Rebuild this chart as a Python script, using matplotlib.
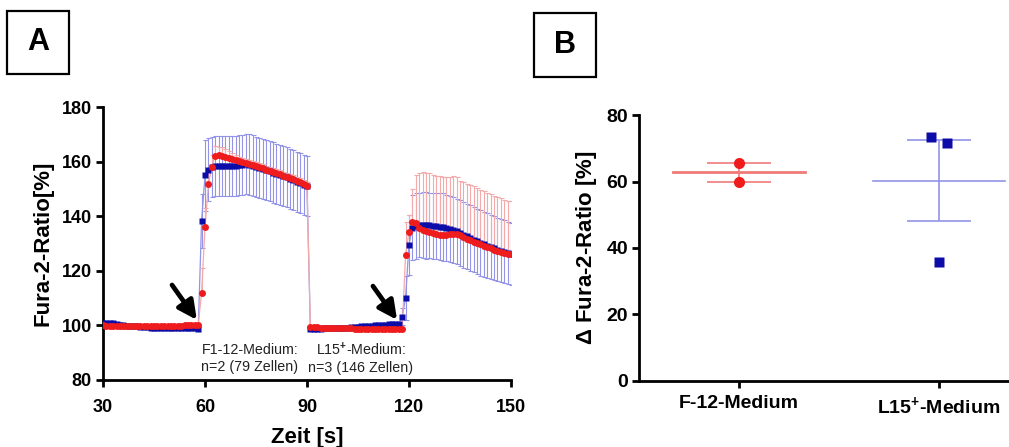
import numpy as np
import matplotlib
matplotlib.use("Agg")
import matplotlib.pyplot as plt
from matplotlib.patches import Rectangle

plt.rcParams['font.family'] = ['Liberation Sans', 'DejaVu Sans']
plt.rcParams['font.weight'] = 'bold'
plt.rcParams['mathtext.fontset'] = 'custom'
plt.rcParams['mathtext.rm'] = 'Liberation Sans'
plt.rcParams['mathtext.bf'] = 'Liberation Sans:bold'

# --- Panel A: time course (1 s steps, 30..150 s) ---
t_start, t_end = 30, 150

blue_mean = [
    100.8, 100.9, 100.8, 100.7, 100.5, 100.3, 100.0, 99.9, 99.8, 99.7,
    99.6, 99.5, 99.4, 99.3, 99.2, 99.1, 99.0, 99.0, 98.9, 98.9,
    98.9, 99.0, 99.0, 99.0, 99.1, 99.1, 99.0, 98.9, 98.6, 138.2,
    155.0, 157.0, 158.0, 158.3, 158.5, 158.5, 158.5, 158.5, 158.4, 158.5,
    158.6, 158.8, 159.0, 158.8, 158.5, 158.0, 157.6, 157.2, 156.8, 156.4,
    156.0, 155.6, 155.2, 154.7, 154.2, 153.7, 153.2, 152.7, 152.2, 151.6,
    151.0, 98.6, 98.7, 98.8, 98.8, 98.9, 98.9, 99.0, 99.0, 99.1,
    99.1, 99.2, 99.2, 99.3, 99.4, 99.5, 99.6, 99.7, 99.8, 99.9,
    100.0, 100.1, 100.2, 100.3, 100.4, 100.5, 100.5, 100.6, 103.2, 110.0,
    129.5, 135.8, 136.5, 136.8, 136.8, 136.7, 136.6, 136.5, 136.4, 136.2,
    136.0, 135.7, 135.3, 134.9, 134.4, 133.8, 133.2, 132.6, 132.0, 131.4,
    130.8, 130.2, 129.7, 129.2, 128.7, 128.2, 127.8, 127.4, 127.0, 126.6,
    126.2,
]
blue_sd = [
    0.6, 0.6, 0.6, 0.6, 0.6, 0.6, 0.6, 0.6, 0.6, 0.6,
    0.6, 0.6, 0.6, 0.6, 0.6, 0.6, 0.6, 0.6, 0.6, 0.6,
    0.6, 0.6, 0.6, 0.6, 0.6, 0.6, 0.6, 0.7, 0.8, 10.0,
    13.0, 11.5, 11.0, 11.0, 11.0, 11.0, 11.0, 11.0, 11.0, 11.0,
    11.0, 11.0, 11.0, 11.2, 11.2, 11.0, 11.0, 11.0, 11.0, 11.0,
    11.0, 11.0, 11.0, 11.0, 11.0, 11.0, 11.0, 11.0, 11.0, 11.0,
    11.0, 0.7, 0.6, 0.6, 0.6, 0.6, 0.6, 0.6, 0.6, 0.6,
    0.6, 0.6, 0.6, 0.6, 0.6, 0.6, 0.6, 0.6, 0.6, 0.6,
    0.6, 0.6, 0.6, 0.6, 0.6, 0.6, 0.6, 0.6, 3.0, 8.0,
    11.0, 12.0, 12.0, 11.8, 12.0, 12.3, 12.0, 12.0, 12.2, 12.3,
    12.5, 12.2, 12.0, 12.0, 12.0, 12.1, 12.0, 12.0, 12.0, 12.0,
    12.0, 12.0, 11.8, 11.8, 11.8, 11.7, 11.6, 11.5, 11.5, 11.4,
    11.3,
]
red_mean = [
    100.0, 99.9, 99.9, 99.8, 99.8, 99.8, 99.7, 99.7, 99.7, 99.7,
    99.7, 99.7, 99.7, 99.7, 99.8, 99.8, 99.8, 99.8, 99.8, 99.8,
    99.8, 99.9, 99.9, 99.9, 100.0, 100.0, 100.0, 100.0, 100.0, 112.0,
    136.0, 151.8, 158.0, 162.2, 162.5, 162.2, 161.8, 161.4, 161.0, 160.6,
    160.2, 159.8, 159.5, 159.2, 158.8, 158.4, 158.0, 157.5, 157.0, 156.6,
    156.2, 155.8, 155.3, 154.8, 154.4, 154.0, 153.5, 153.0, 152.4, 151.8,
    151.2, 99.5, 99.4, 99.3, 99.2, 99.2, 99.1, 99.1, 99.0, 99.0,
    99.0, 98.9, 98.9, 98.9, 98.8, 98.8, 98.8, 98.7, 98.7, 98.7,
    98.6, 98.6, 98.6, 98.5, 98.5, 98.5, 98.5, 98.5, 98.6, 125.8,
    134.3, 138.0, 137.6, 135.5, 134.8, 134.5, 134.3, 134.0, 133.6, 133.2,
    133.0, 133.2, 133.4, 133.5, 133.3, 133.0, 132.4, 131.8, 131.2, 130.7,
    130.2, 129.7, 129.2, 128.7, 128.2, 127.8, 127.4, 127.0, 126.6, 126.3,
    126.0,
]
red_sd = [
    0.5, 0.5, 0.5, 0.5, 0.5, 0.5, 0.5, 0.5, 0.5, 0.5,
    0.5, 0.5, 0.5, 0.5, 0.5, 0.5, 0.5, 0.5, 0.5, 0.5,
    0.5, 0.5, 0.5, 0.5, 0.5, 0.5, 0.5, 0.5, 0.5, 9.0,
    7.0, 5.0, 4.5, 3.5, 3.0, 3.0, 3.0, 2.5, 2.0, 2.0,
    1.5, 1.5, 1.5, 1.5, 1.5, 1.5, 1.5, 1.5, 1.5, 1.5,
    1.5, 1.5, 1.5, 1.5, 1.5, 1.5, 1.5, 1.5, 1.5, 1.5,
    1.5, 0.5, 0.5, 0.5, 0.5, 0.5, 0.5, 0.5, 0.5, 0.5,
    0.5, 0.5, 0.5, 0.5, 0.5, 0.5, 0.5, 0.5, 0.5, 0.5,
    0.5, 0.5, 0.5, 0.5, 0.5, 0.5, 0.5, 0.5, 0.5, 12.0,
    6.0, 12.0, 17.5, 20.5, 21.3, 21.5, 21.5, 21.0, 21.2, 21.5,
    21.5, 21.0, 21.0, 21.2, 21.0, 19.8, 20.0, 20.0, 20.3, 20.3,
    20.3, 20.0, 20.0, 19.8, 19.8, 19.7, 19.6, 19.5, 19.5, 19.4,
    19.5,
]
time = np.arange(t_start, t_end + 1)

xticks_a = [30, 60, 90, 120, 150]
yticks_a = [80, 100, 120, 140, 160, 180]
arrow_heads = [(57.6, 102.0), (116.5, 102.0)]
arrow_tails = [(50.3, 114.8), (109.4, 114.4)]
notes = ["F1-12-Medium:\nn=2 (79 Zellen)", "L15$^{+}$-Medium:\nn=3 (146 Zellen)"]
note_pos = [(73.2, 88.0), (105.9, 88.0)]

# --- Panel B: per-experiment deltas ---
groups = ["F-12-Medium", "L15$^{\\mathbf{+}}$-Medium"]
f12_values = [65.5, 60.0]
l15_values = [73.4, 71.7, 35.7]
l15_jitter = [-0.04, 0.04, 0.0]

BLUE_DARK = '#0c0ca8'
BLUE_LIGHT = '#9393e8'
RED_DARK = '#ee1c1c'
RED_LIGHT = '#f4aaaa'

fig = plt.figure(figsize=(10.09, 4.47), dpi=100)


def style_axis(ax, size, xpad):
    for s in ['top', 'right']:
        ax.spines[s].set_visible(False)
    for s in ['left', 'bottom']:
        ax.spines[s].set_linewidth(2)
    ax.tick_params(width=2, length=5, labelsize=size, pad=3)
    ax.tick_params(axis='x', pad=xpad)
    for lab in ax.get_xticklabels() + ax.get_yticklabels():
        lab.set_fontweight('bold')


# Panel A
axA = fig.add_axes([0.1021, 0.1499, 0.4043, 0.6107])
bm = np.array(blue_mean)
rm = np.array(red_mean)
axA.errorbar(time, bm, yerr=blue_sd, color=BLUE_LIGHT, lw=0.9,
             elinewidth=0.8, capsize=1.8, capthick=0.8, zorder=1)
axA.errorbar(time, rm, yerr=[np.zeros(len(red_sd)), red_sd], color=RED_LIGHT,
             lw=0.9, elinewidth=0.8, capsize=1.8, capthick=0.8, zorder=1.5)
axA.plot(time, bm, 's', color=BLUE_DARK, ms=4.5, mec='none', zorder=3)
axA.plot(time, rm, 'o', color=RED_DARK, ms=5, mec='none', zorder=4)

for head, tail in zip(arrow_heads, arrow_tails):
    axA.annotate('', xy=head, xytext=tail,
                 arrowprops=dict(arrowstyle='-|>', color='black', lw=3.4,
                                 mutation_scale=28, shrinkA=0, shrinkB=0),
                 zorder=5)
for txt, (x, y) in zip(notes, note_pos):
    axA.text(x, y, txt, ha='center', va='center', fontsize=10.3,
             fontweight='normal', color='#222222', linespacing=1.25)

axA.set_xlim(30, 150)
axA.set_ylim(80, 180)
axA.set_xticks(xticks_a)
axA.set_yticks(yticks_a)
axA.set_xlabel('Zeit [s]', fontsize=16, fontweight='bold', labelpad=8)
axA.set_ylabel('Fura-2-Ratio[%]', fontsize=16, fontweight='bold', labelpad=6)
style_axis(axA, 13, 8.5)

# Panel B
axB = fig.add_axes([0.6333, 0.1477, 0.3667, 0.5950])
groups_vals = [f12_values, l15_values]
jitters = [[0.0, 0.0], l15_jitter]
markers = ['o', 's']
dark = [RED_DARK, BLUE_DARK]
light = ['#f07a7a', BLUE_LIGHT]
sizes = [8, 7.5]
for i, vals in enumerate(groups_vals):
    v = np.array(vals)
    mean = v.mean()
    sem = v.std(ddof=1) / np.sqrt(len(v))
    axB.plot([i - 0.33, i + 0.33], [mean, mean], color=light[i],
             lw=2 if i == 0 else 1.2, zorder=2)
    axB.errorbar([i], [mean], yerr=[sem], fmt='none', ecolor=light[i],
                 elinewidth=1.2, capsize=23, capthick=1.2, zorder=2)
    axB.plot(i + np.array(jitters[i]), v, markers[i], color=dark[i],
             ms=sizes[i], mec='none', zorder=3, clip_on=False)

axB.set_xlim(-0.5, 1.35)
axB.set_ylim(0, 80)
axB.set_xticks([0, 1])
axB.set_xticklabels(groups)
axB.set_yticks([0, 20, 40, 60, 80])
axB.set_ylabel('$\\Delta$ Fura-2-Ratio [%]', fontsize=16, fontweight='bold', labelpad=5)
style_axis(axB, 14, 5)

# panel letters
W, H = 1009, 447
for letter, (x0, y0, x1, y1) in [('A', (7, 11, 69, 74)), ('B', (534, 13, 596, 77))]:
    fig.patches.append(Rectangle((x0 / W, 1 - y1 / H), (x1 - x0) / W, (y1 - y0) / H,
                                 transform=fig.transFigure, fill=False,
                                 lw=1.6, ec='black'))
    fig.text((x0 + x1) / 2 / W, 1 - (y0 + y1) / 2 / H, letter, ha='center',
             va='center', fontsize=22, fontweight='bold')

fig.savefig('out.png', dpi=100)
